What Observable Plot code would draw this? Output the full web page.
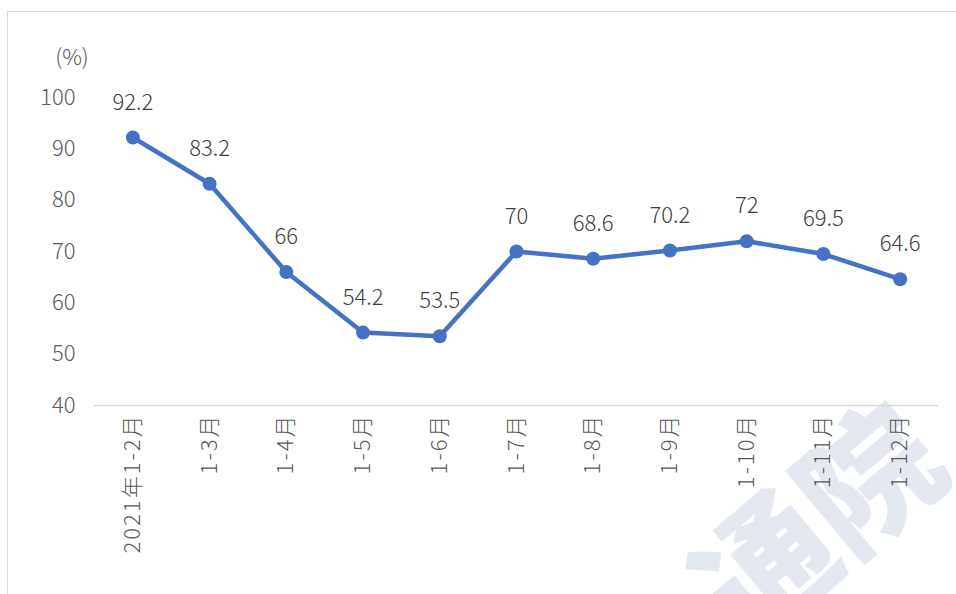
<!DOCTYPE html>
<html>
<head>
<meta charset="utf-8">
<script src="https://cdn.jsdelivr.net/npm/d3@7"></script>
<script src="https://cdn.jsdelivr.net/npm/@observablehq/plot@0.6"></script>
<style>
  html, body { margin: 0; padding: 0; background: #fff; }
  #wrap { position: relative; width: 956px; height: 594px; overflow: hidden; }
  #border { position: absolute; left: 7px; top: 11px; width: 1000px; height: 1000px; border: 1.5px solid #d9d9d9; box-sizing: border-box; }
  #wm { position: absolute; left: 692px; top: 492px; font-family: "Noto Sans CJK SC", sans-serif; font-weight: 900; font-size: 136px; color: #e4e8f1; transform: rotate(-40deg); transform-origin: 68px 68px; white-space: nowrap; line-height: 1; }
  #chart { position: absolute; left: 0; top: 0; }
  #chart g[aria-label="x-axis tick label"] text { letter-spacing: 2px; }
</style>
</head>
<body>
<div id="wrap">
  <div id="border"></div>
  <div id="wm">通院</div>
  <div id="chart"></div>
</div>
<script>
const categories = ["2021年1-2月", "1-3月", "1-4月", "1-5月", "1-6月", "1-7月", "1-8月", "1-9月", "1-10月", "1-11月", "1-12月"];
const values = [92.2, 83.2, 66, 54.2, 53.5, 70, 68.6, 70.2, 72, 69.5, 64.6];
const yTicks = [40, 50, 60, 70, 80, 90, 100];

const data = categories.map((c, i) => ({ cat: c, v: values[i] }));
const font = '"Noto Sans CJK SC", "Noto Sans", sans-serif';

const chart = Plot.plot({
  width: 956,
  height: 594,
  marginLeft: 94,
  marginRight: 18,
  marginTop: 97,
  marginBottom: 189,
  style: { fontFamily: font, fontWeight: 300, background: "transparent", overflow: "visible" },
  x: { type: "point", domain: categories, padding: 0.5, round: false, label: null },
  y: { domain: [40, 100], ticks: yTicks, label: null },
  marks: [
    Plot.ruleY([40], { stroke: "#d9d9d9", strokeWidth: 1.5 }),
    Plot.axisY({ ticks: yTicks, tickSize: 0, tickPadding: 19, fontSize: 22, fill: "#595959", label: null }),
    Plot.axisX({ tickSize: 0, tickRotate: -90, tickPadding: 8, fontSize: 22, fill: "#595959", label: null }),
    Plot.line(data, { x: "cat", y: "v", stroke: "#4472C4", strokeWidth: 4.5 }),
    Plot.dot(data, { x: "cat", y: "v", r: 7, fill: "#4472C4", stroke: "none" }),
    Plot.text(data, { x: "cat", y: "v", text: d => String(d.v), dy: -35, fontSize: 22, fill: "#404040" }),
    Plot.text(["(%)"], { frameAnchor: "top-left", textAnchor: "middle", lineAnchor: "middle", dx: -22.5, dy: -40, fontSize: 22, fill: "#595959" })
  ]
});
document.getElementById("chart").appendChild(chart);
</script>
</body>
</html>
